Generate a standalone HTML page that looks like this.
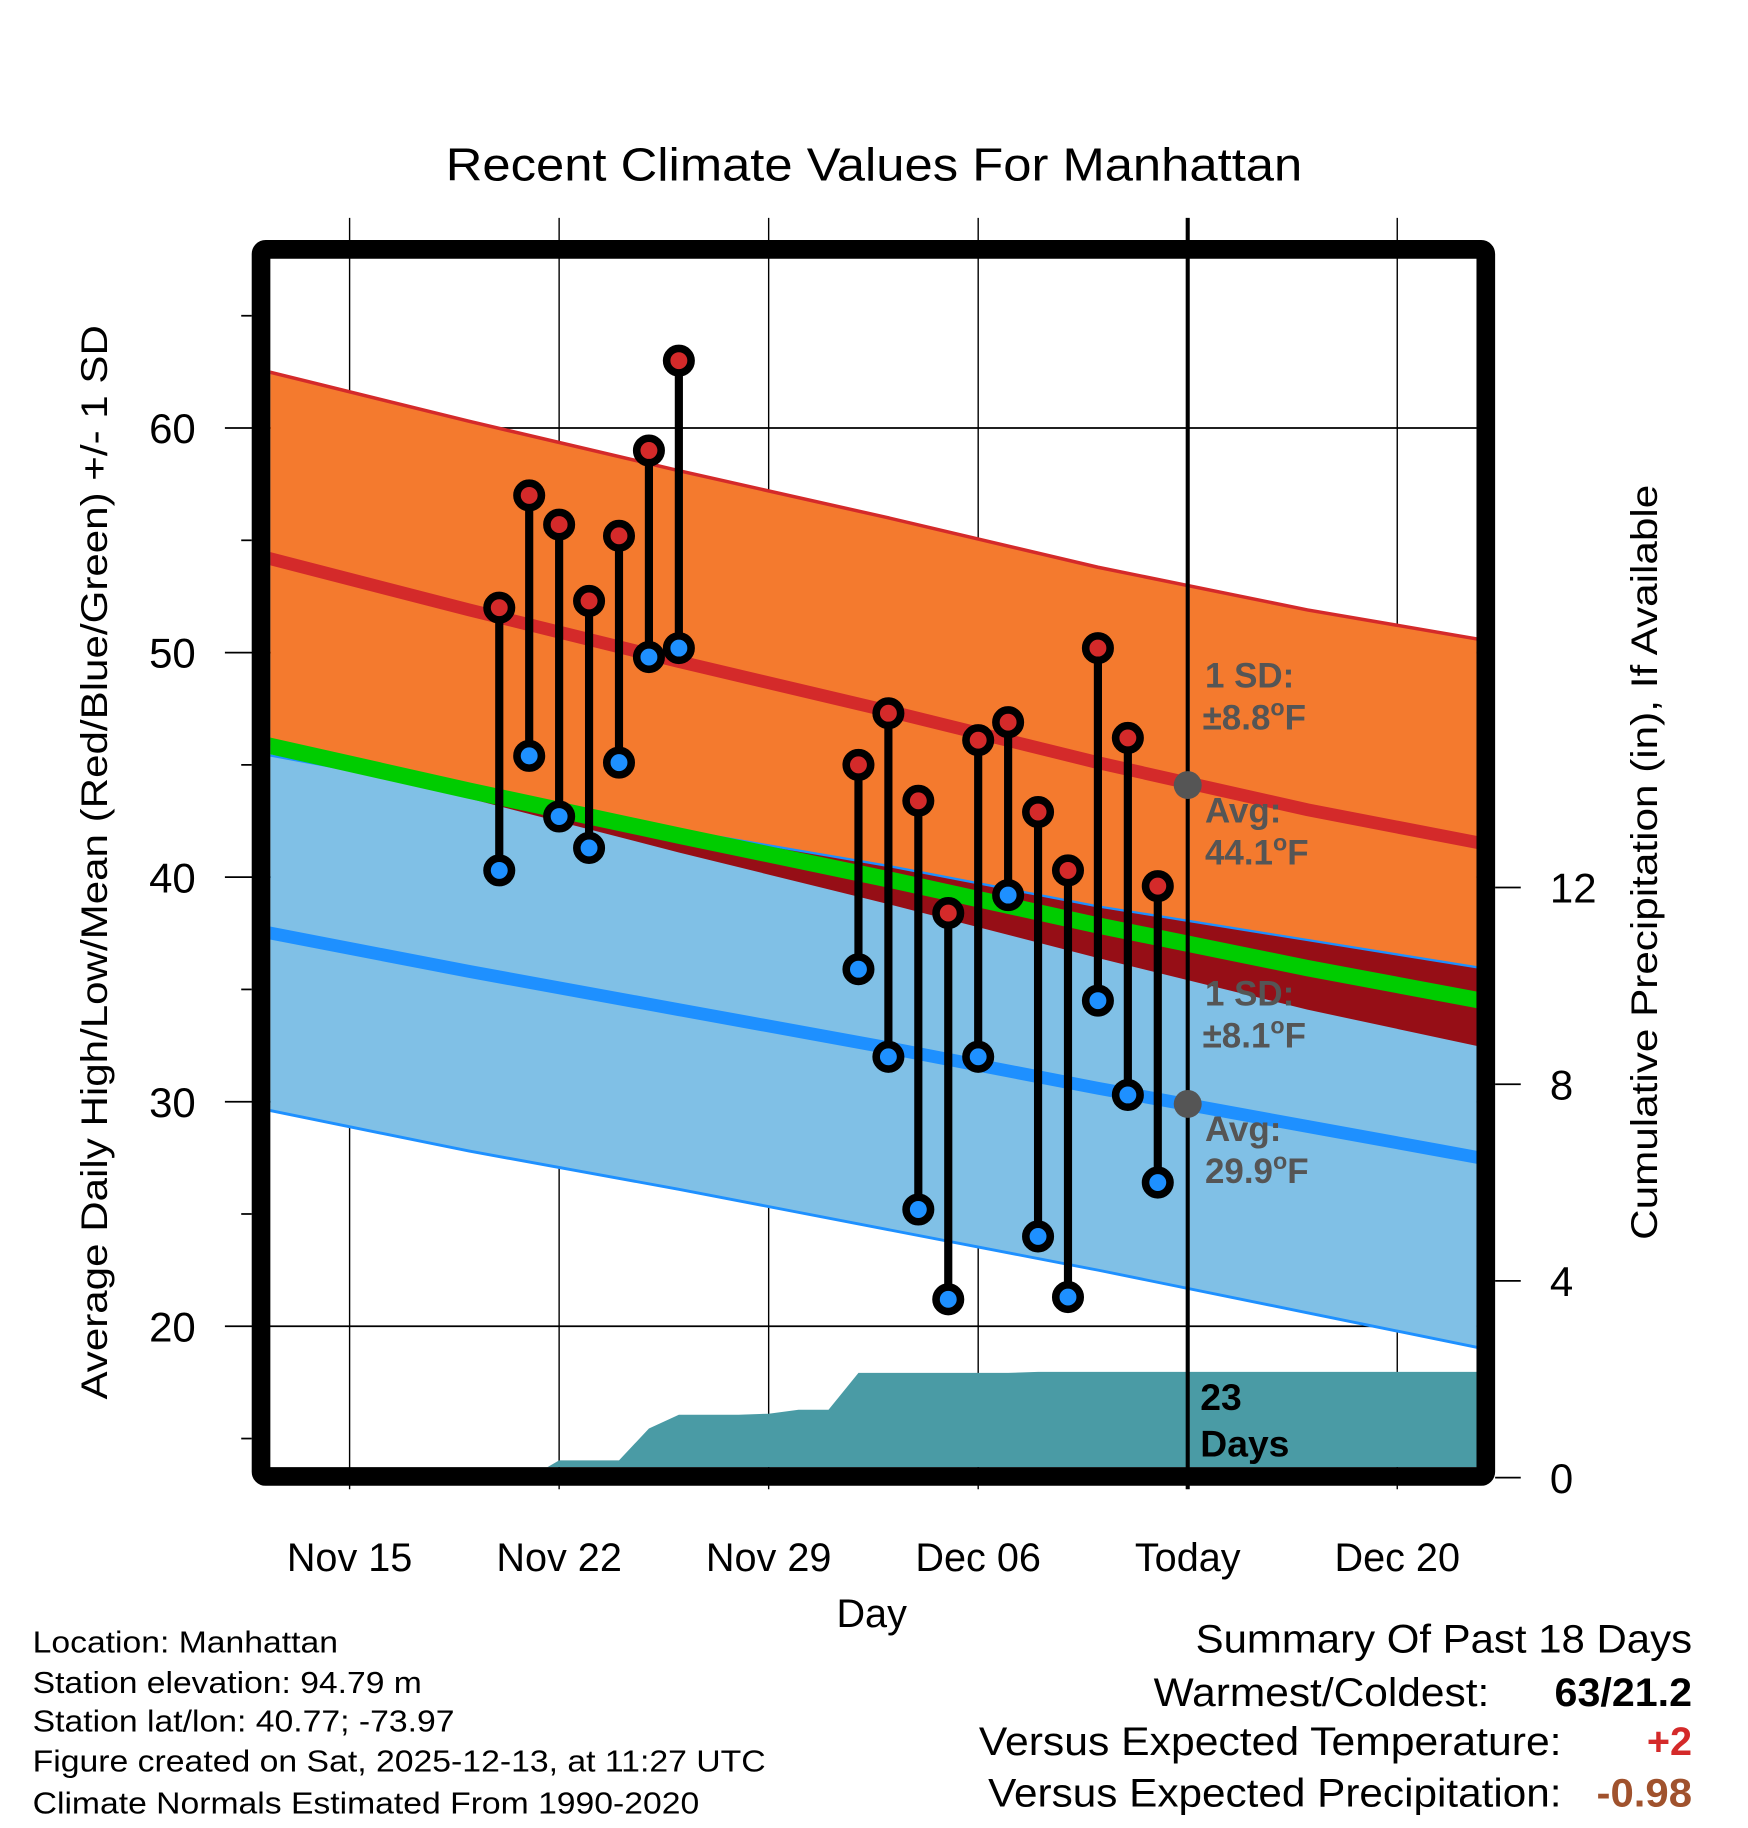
<!DOCTYPE html>
<html><head><meta charset="utf-8"><title>Recent Climate Values For Manhattan</title>
<style>html,body{margin:0;padding:0;background:#fff}svg{display:block}text{font-family:"Liberation Sans",Arial,sans-serif}</style>
</head><body>
<svg id="chart" width="1748" height="1828" viewBox="0 0 1500 1568.65" preserveAspectRatio="none" xmlns="http://www.w3.org/2000/svg">
<defs><clipPath id="plotclip"><rect x="232" y="222" width="1035" height="1037"/></clipPath></defs>
<text x="750" y="155" font-size="40" text-anchor="middle" textLength="735" lengthAdjust="spacingAndGlyphs">Recent Climate Values For Manhattan</text>
<g id="grid"></g>
<g id="plot" clip-path="url(#plotclip)"></g>
<g id="marks"></g>
<g id="axes"></g>
<text transform="translate(92,740) rotate(-90)" font-size="32" text-anchor="middle" textLength="922" lengthAdjust="spacingAndGlyphs">Average Daily High/Low/Mean (Red/Blue/Green) +/- 1 SD</text>
<text transform="translate(1422,740) rotate(-90)" font-size="32" text-anchor="middle" textLength="648" lengthAdjust="spacingAndGlyphs">Cumulative Precipitation (in), If Available</text>
<text x="748" y="1396" font-size="34" text-anchor="middle">Day</text>
<g font-size="26">
<text x="28" y="1418" textLength="262" lengthAdjust="spacingAndGlyphs">Location: Manhattan</text>
<text x="28" y="1453" textLength="334" lengthAdjust="spacingAndGlyphs">Station elevation: 94.79 m</text>
<text x="28" y="1486" textLength="362" lengthAdjust="spacingAndGlyphs">Station lat/lon: 40.77; -73.97</text>
<text x="28" y="1520" textLength="629" lengthAdjust="spacingAndGlyphs">Figure created on Sat, 2025-12-13, at 11:27 UTC</text>
<text x="28" y="1556" textLength="572" lengthAdjust="spacingAndGlyphs">Climate Normals Estimated From 1990-2020</text>
</g>
<g font-size="34">
<text x="1452" y="1418" text-anchor="end" textLength="426" lengthAdjust="spacingAndGlyphs">Summary Of Past 18 Days</text>
<text x="1278" y="1464" text-anchor="end" textLength="288" lengthAdjust="spacingAndGlyphs">Warmest/Coldest:</text>
<text x="1452" y="1464" text-anchor="end" font-weight="bold" textLength="118" lengthAdjust="spacingAndGlyphs">63/21.2</text>
<text x="1340" y="1506" text-anchor="end" textLength="500" lengthAdjust="spacingAndGlyphs">Versus Expected Temperature:</text>
<text x="1452" y="1506" text-anchor="end" font-weight="bold" fill="#D42A2A">+2</text>
<text x="1340" y="1550" text-anchor="end" textLength="492" lengthAdjust="spacingAndGlyphs">Versus Expected Precipitation:</text>
<text x="1452" y="1550" text-anchor="end" font-weight="bold" fill="#A0522D" textLength="82" lengthAdjust="spacingAndGlyphs">-0.98</text>
</g>
<script>
// ---- data ----
const obsDays = [5,6,7,8,9,10,11,17,18,19,20,21,22,23,24,25,26,27];
const highs = [52,57,55.7,52.3,55.2,59,63,45,47.3,43.4,38.4,46.1,46.9,42.9,40.3,50.2,46.2,39.6];
const lows = [40.3,45.4,42.7,41.3,45.1,49.8,50.2,35.9,32,25.2,21.2,32,39.2,24,21.3,34.5,30.3,26.4];
const normDays = [-3,4,11,18,25,32,39];
const hiNorm = [54.3,51.9,49.6,47.4,45.1,43.0,41.2];
const hiSD = [8.3,8.4,8.5,8.6,8.7,8.9,9.1];
const loNorm = [37.6,35.8,34.1,32.4,30.6,28.9,27.2];
const loSD = [7.9,8.0,8.0,8.1,8.1,8.3,8.5];
const precipDays = [-3,5,6,7,8,9,10,11,12,13,14,15,16,17,18,22,23,28,39];
const precipCum = [0,0,0,0.35,0.35,0.35,1.0,1.28,1.28,1.28,1.3,1.38,1.38,2.13,2.13,2.13,2.15,2.15,2.15];
const yTicks = [20,30,40,50,60];
const yMinor = [15,25,35,45,55,65];
const pTicks = [0,4,8,12];
const xTickDays = [0,7,14,21,28,35];
const xTickLabels = ["Nov 15","Nov 22","Nov 29","Dec 06","Today","Dec 20"];
const todayDay = 28;
const todayHi = 44.1, todayLo = 29.9, sdHiTxt = "8.8", sdLoTxt = "8.1";

// ---- scales ----
const X = d => 300 + d*25.686;
const Y = v => 560 - (v-50)*19.27;
const P = p => 1268 - p*42.2;
const NS = "http://www.w3.org/2000/svg";
function mk(tag, attrs, parent){const e=document.createElementNS(NS,tag);for(const k in attrs)e.setAttribute(k,attrs[k]);parent.appendChild(e);return e;}
const grid=document.getElementById('grid'), plot=document.getElementById('plot'), marks=document.getElementById('marks'), axes=document.getElementById('axes');

function pts(arr){return normDays.map((d,i)=>X(d)+','+Y(arr[i]));}
const hiUp=hiNorm.map((v,i)=>v+hiSD[i]), hiDn=hiNorm.map((v,i)=>v-hiSD[i]);
const loUp=loNorm.map((v,i)=>v+loSD[i]), loDn=loNorm.map((v,i)=>v-loSD[i]);
const mean=hiNorm.map((v,i)=>(v+loNorm[i])/2);
let e;
e=mk('polygon',{points:pts(hiUp).concat(pts(hiDn).reverse()).join(' '),fill:'#F47A2E'},plot);

e=mk('polygon',{points:pts(loUp).concat(pts(loDn).reverse()).join(' '),fill:'#80C0E6'},plot);

const ovTop=loUp.map((v,i)=>Math.max(v,hiDn[i])), ovBot=hiDn;
e=mk('polygon',{points:pts(ovTop).concat(pts(ovBot).reverse()).join(' '),fill:'#960E16'},plot);

e=mk('polyline',{points:pts(hiUp).join(' '),fill:'none',stroke:'#D42A2A','stroke-width':3},plot);

e=mk('polyline',{points:pts(loUp).join(' '),fill:'none',stroke:'#1E90FF','stroke-width':2},plot);

e=mk('polyline',{points:pts(loDn).join(' '),fill:'none',stroke:'#1E90FF','stroke-width':2.5},plot);

e=mk('polyline',{points:pts(mean).join(' '),fill:'none',stroke:'#00CC00','stroke-width':14},plot);

e=mk('polyline',{points:pts(hiNorm).join(' '),fill:'none',stroke:'#D42A2A','stroke-width':11},plot);

e=mk('polyline',{points:pts(loNorm).join(' '),fill:'none',stroke:'#1E90FF','stroke-width':11},plot);

const pp=precipDays.map((d,i)=>X(d)+','+P(precipCum[i]));
pp.push(X(39)+','+P(0)); pp.push(X(-3)+','+P(0));
e=mk('polygon',{points:pp.join(' '),fill:'#4A9BA5'},plot);


yTicks.forEach(v=>{e=mk('line',{x1:193,x2:1267,y1:Y(v),y2:Y(v),stroke:'#000','stroke-width':1.5},grid);
});
xTickDays.forEach((d,i)=>{e=mk('line',{x1:X(d),x2:X(d),y1:187,y2:1278,stroke:'#000','stroke-width':d===todayDay?3.5:1.2},d===todayDay?marks:grid);
});

function lbl(t,x,y,name){const el=mk('text',{x:x,y:y,'font-size':30,'font-weight':'bold',fill:'#555'},marks);el.textContent=t;
return el;}
function degLbl(val,x,y,name){const el=mk('text',{x:x,y:y,'font-size':30,'font-weight':'bold',fill:'#555'},marks);

const a=document.createElementNS(NS,'tspan');a.textContent=val;el.appendChild(a);
const b=document.createElementNS(NS,'tspan');b.setAttribute('dy','-12');b.setAttribute('font-size','20');b.textContent='o';el.appendChild(b);
const c=document.createElementNS(NS,'tspan');c.setAttribute('dy','12');c.textContent='F';el.appendChild(c);}
lbl('1 SD:',1034,590,'high-sd-label');degLbl('\u00B1'+sdHiTxt,1032,626,'high-sd-value');
lbl('Avg:',1034,706,'high-avg-label');degLbl(String(todayHi),1034,742,'high-avg-value');
lbl('1 SD:',1034,863,'low-sd-label');degLbl('\u00B1'+sdLoTxt,1032,899,'low-sd-value');
lbl('Avg:',1034,979,'low-avg-label');degLbl(String(todayLo),1034,1015,'low-avg-value');
e=mk('circle',{cx:X(todayDay),cy:Y(todayHi),r:12,fill:'#555'},marks);

e=mk('circle',{cx:X(todayDay),cy:Y(todayLo),r:12,fill:'#555'},marks);

e=mk('text',{x:1030,y:1210,'font-size':32,'font-weight':'bold'},marks);e.textContent='23';

e=mk('text',{x:1030,y:1250,'font-size':32,'font-weight':'bold'},marks);e.textContent='Days';


obsDays.forEach((d,i)=>{
 e=mk('line',{x1:X(d),x2:X(d),y1:Y(highs[i]),y2:Y(lows[i]),stroke:'#000','stroke-width':7},marks);
 
});
obsDays.forEach((d,i)=>{
 e=mk('circle',{cx:X(d),cy:Y(highs[i]),r:10.5,fill:'#D42A2A',stroke:'#000','stroke-width':6.5},marks);
 
 e=mk('circle',{cx:X(d),cy:Y(lows[i]),r:10.5,fill:'#1E90FF',stroke:'#000','stroke-width':6.5},marks);
 
});

e=mk('rect',{x:224,y:214,width:1051,height:1053,rx:4,fill:'none',stroke:'#000','stroke-width':16},axes);

yTicks.forEach(v=>{e=mk('text',{x:168,y:Y(v)+13,'font-size':36,'text-anchor':'end'},axes);e.textContent=v;
});
yMinor.forEach(v=>{e=mk('line',{x1:207,x2:216,y1:Y(v),y2:Y(v),stroke:'#000','stroke-width':1.5},axes);
});
pTicks.forEach(p=>{e=mk('line',{x1:1283,x2:1305,y1:P(p),y2:P(p),stroke:'#000','stroke-width':1.5},axes);

e=mk('text',{x:1330,y:P(p)+13,'font-size':36,'text-anchor':'start'},axes);e.textContent=p;
});
xTickDays.forEach((d,i)=>{e=mk('text',{x:X(d),y:1348,'font-size':34,'text-anchor':'middle'},axes);e.textContent=xTickLabels[i];
});
</script>
</svg>
</body></html>
